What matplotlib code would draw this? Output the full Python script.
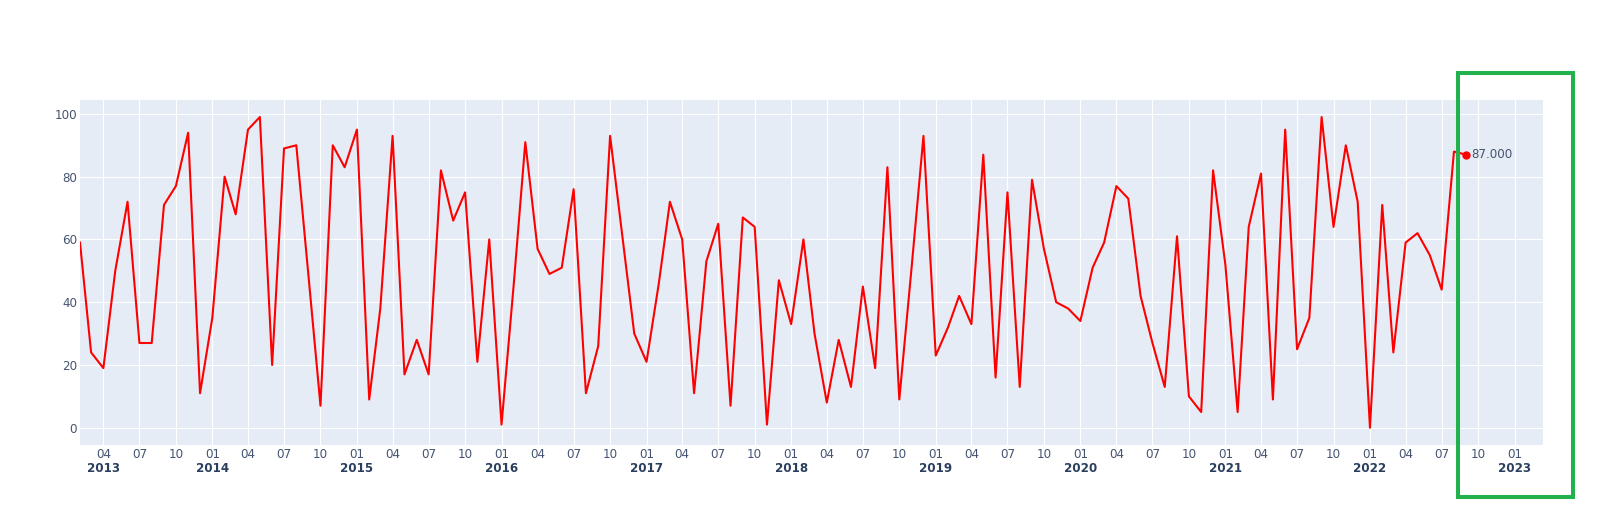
import pandas as pd
import matplotlib
matplotlib.use("Agg")
from matplotlib import pyplot as plt
from matplotlib import dates as mdates
from matplotlib import transforms
from matplotlib.patches import Rectangle

# monthly values, Feb 2013 - Sep 2022
values_2013 = [59, 24, 19, 50, 72, 27, 27, 71, 77, 94, 11]
values_2014 = [35, 80, 68, 95, 99, 20, 89, 90, 48, 7, 90, 83]
values_2015 = [95, 9, 38, 93, 17, 28, 17, 82, 66, 75, 21, 60]
values_2016 = [1, 46, 91, 57, 49, 51, 76, 11, 26, 93, 61, 30]
values_2017 = [21, 46, 72, 60, 11, 53, 65, 7, 67, 64, 1, 47]
values_2018 = [33, 60, 30, 8, 28, 13, 45, 19, 83, 9, 51, 93]
values_2019 = [23, 32, 42, 33, 87, 16, 75, 13, 79, 57, 40, 38]
values_2020 = [34, 51, 59, 77, 73, 42, 27, 13, 61, 10, 5, 82]
values_2021 = [52, 5, 64, 81, 9, 95, 25, 35, 99, 64, 90, 72]
values_2022 = [0, 71, 24, 59, 62, 55, 44, 88, 87]

values = (values_2013 + values_2014 + values_2015 + values_2016 + values_2017
          + values_2018 + values_2019 + values_2020 + values_2021 + values_2022)
dates = pd.date_range("2013-02-01", periods=len(values), freq="MS")

y_ticks = [0, 20, 40, 60, 80, 100]
x_ticks = pd.date_range("2013-04-01", "2023-01-01", freq="3MS")

text_color = "#2a3f5f"
tick_color = "#445370"
plt.rcParams["font.family"] = ["DejaVu Sans"]

fig = plt.figure(figsize=(16.23, 5.25), dpi=100)
ax = fig.add_axes([80 / 1623, 1 - 445 / 525, 1462.7 / 1623, 344.6 / 525])
ax.set_facecolor("#E5ECF6")

ax.plot(dates, values, c="red", lw=1.5, zorder=3)
ax.plot(dates[-1:], values[-1:], "o", c="red", ms=5, zorder=4)
ax.annotate(f"{values[-1]:.3f}", (dates[-1], values[-1]), xytext=(3.5, 0),
            textcoords="offset points", va="center", ha="left",
            fontsize=8.6, color=tick_color)

ax.set_xlim(pd.Timestamp("2013-02-01"), pd.Timestamp("2023-03-13"))
ax.set_ylim(-5.5, 104.3)

ax.set_yticks(y_ticks)
ax.set_xticks(x_ticks)
ax.set_xticklabels([d.strftime("%m") for d in x_ticks])
ax.grid(True, color="white", lw=0.8)
ax.set_axisbelow(True)
ax.tick_params(axis="both", length=0, labelsize=8.6, labelcolor=tick_color)
ax.tick_params(axis="y", pad=2)
ax.tick_params(axis="x", pad=1.8)
for s in ax.spines.values():
    s.set_visible(False)

# year labels under the first tick of each year
trans = transforms.blended_transform_factory(ax.transData, ax.transAxes)
trans = trans + transforms.ScaledTranslation(0, -27.5 / 100, fig.dpi_scale_trans)
seen = set()
for d in x_ticks:
    if d.year not in seen:
        seen.add(d.year)
        ax.text(mdates.date2num(d), 0, str(d.year), transform=trans,
                ha="center", va="baseline", fontsize=8.6,
                fontweight="bold", color=text_color)

# green highlight box
fig.patches.append(Rectangle((1458 / 1623, 1 - 496.7 / 525), 115.3 / 1623, 423.4 / 525,
                             transform=fig.transFigure, fill=False,
                             edgecolor="#22B14C", lw=2.9))

fig.savefig("out.png", dpi=100)
